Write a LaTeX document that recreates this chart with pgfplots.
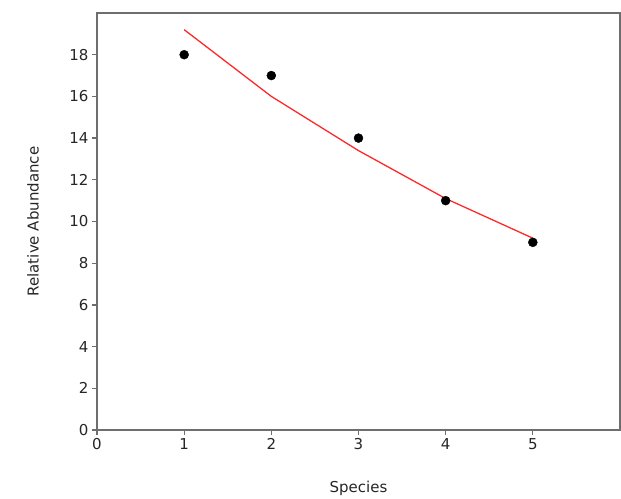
\documentclass[border=0pt]{standalone}
\usepackage{fontspec}
\setmainfont{DejaVu Sans}
\usepackage{pgfplots}
\pgfplotsset{compat=1.18}

\definecolor{framegray}{RGB}{110,110,110}
\definecolor{fitred}{RGB}{255,40,40}

\begin{document}
\begin{tikzpicture}[x=1pt,y=1pt]
\begin{axis}[
  scale only axis,
  width=523pt, height=417pt,
  xmin=0, xmax=6, ymin=0, ymax=20,
  xtick={0,1,2,3,4,5},
  ytick={0,2,4,6,8,10,12,14,16,18},
  tick align=outside,
  major tick length=5pt,
  tick style={framegray, line width=1.2pt},
  axis line style={framegray, line width=2pt},
  xtick pos=bottom, ytick pos=left,
  tick label style={font=\fontsize{15}{17}\selectfont, text=black!85},
  label style={font=\fontsize{15}{17}\selectfont, text=black!85},
  /pgf/number format/assume math mode=true,
  xlabel={Species},
  ylabel={Relative Abundance},
  xlabel style={at={(axis description cs:0.5,0)}, anchor=center, yshift=-58pt},
  ylabel style={at={(axis description cs:0,0.5)}, anchor=center, yshift=64pt},
]
\addplot[fitred, line width=1.3pt] coordinates {(1,19.2)(2,16.0)(3,13.4)(4,11.1)(5,9.2)};
\addplot[only marks, mark=*, mark size=4.5pt, black] coordinates {(1,18)(2,17)(3,14)(4,11)(5,9)};
\end{axis}
\path (-97,-68) rectangle (524,430);
\end{tikzpicture}
\end{document}
